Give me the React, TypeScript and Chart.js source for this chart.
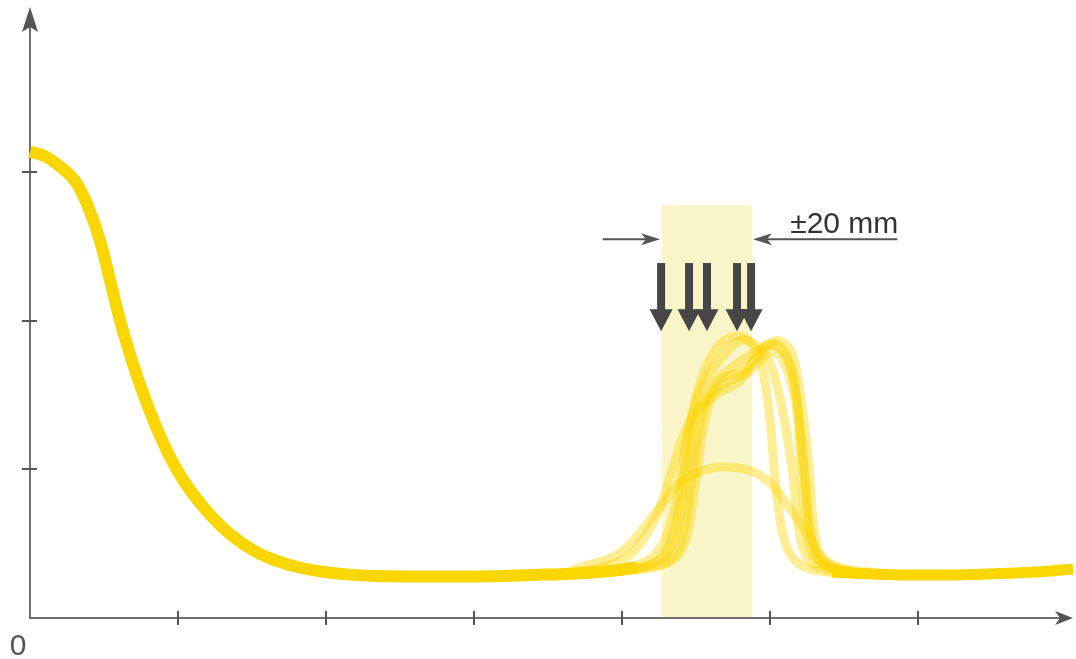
import React, { useEffect, useRef } from "react";
import { Chart, registerables } from "chart.js";

Chart.register(...registerables);

// Axis ticks (unit spacing, no labels except origin "0")
const xTicks = [1, 2, 3, 4, 5, 6];
const yTicks = [1, 2, 3];
const xMax = 7.047;
const yMax = 4.114;

// Main profile (left part and right part)
const mainLeftX = [0, 0.1, 0.19, 0.32, 0.4, 0.47, 0.62, 0.78, 0.98, 1.23, 1.5, 1.82, 2.5, 3.0, 3.4, 3.7, 3.95, 4.1];
const mainLeftY = [3.14, 3.11, 3.05, 2.92, 2.75, 2.55, 1.96, 1.47, 1.02, 0.68, 0.46, 0.34, 0.28, 0.28, 0.29, 0.3, 0.32, 0.34];
const mainRightX = [5.42, 5.6, 5.88, 6.2, 6.55, 6.8, 7.047];
const mainRightY = [0.31, 0.3, 0.29, 0.29, 0.3, 0.31, 0.33];

// Repeated peak profiles
const peak1X = [3.85, 4.19, 4.32, 4.41, 4.48, 4.56, 4.66, 4.78, 4.88, 4.95, 5.0, 5.05, 5.12, 5.24, 5.47];
const peak1Y = [0.31, 0.36, 0.49, 0.93, 1.4, 1.67, 1.84, 1.9, 1.84, 1.67, 1.33, 0.79, 0.46, 0.34, 0.3];
const peak2X = [3.85, 4.26, 4.39, 4.47, 4.53, 4.61, 4.76, 4.9, 5.01, 5.1, 5.17, 5.22, 5.27, 5.34, 5.54];
const peak2Y = [0.31, 0.36, 0.49, 0.93, 1.33, 1.57, 1.7, 1.79, 1.85, 1.79, 1.54, 1.06, 0.59, 0.38, 0.3];
const peak3X = [3.85, 4.16, 4.29, 4.38, 4.45, 4.53, 4.66, 4.8, 4.9, 4.99, 5.07, 5.15, 5.2, 5.28, 5.47];
const peak3Y = [0.31, 0.38, 0.53, 0.86, 1.27, 1.54, 1.74, 1.87, 1.84, 1.74, 1.47, 1.0, 0.56, 0.37, 0.3];
const peak4X = [3.85, 4.22, 4.36, 4.45, 4.51, 4.63, 4.8, 4.93, 5.03, 5.14, 5.19, 5.24, 5.28, 5.37, 5.61];
const peak4Y = [0.31, 0.37, 0.53, 1.0, 1.37, 1.5, 1.6, 1.8, 1.84, 1.7, 1.4, 0.93, 0.53, 0.36, 0.3];
const peak5X = [3.58, 3.85, 4.05, 4.22, 4.34, 4.43, 4.56, 4.73, 4.86, 5.0, 5.08, 5.17, 5.2, 5.24, 5.3, 5.47];
const peak5Y = [0.29, 0.34, 0.42, 0.66, 1.0, 1.27, 1.47, 1.6, 1.66, 1.79, 1.75, 1.47, 1.13, 0.66, 0.4, 0.31];
const peak6X = [3.85, 4.26, 4.41, 4.49, 4.56, 4.66, 4.83, 4.97, 5.05, 5.14, 5.2, 5.26, 5.3, 5.37, 5.61];
const peak6Y = [0.31, 0.35, 0.47, 0.86, 1.33, 1.6, 1.67, 1.82, 1.87, 1.8, 1.54, 1.06, 0.59, 0.38, 0.3];
const broadX = [3.58, 3.72, 3.99, 4.26, 4.39, 4.61, 4.84, 5.0, 5.11, 5.25, 5.34, 5.47, 5.74];
const broadY = [0.29, 0.34, 0.44, 0.75, 0.91, 1.01, 1.0, 0.91, 0.77, 0.57, 0.42, 0.34, 0.3];

// Tolerance band and markers
const bandRange = [4.27, 4.88];
const bandTop = 2.78;
const dropArrowX = [4.264, 4.453, 4.574, 4.777, 4.872];
const dropArrowTop = 2.39;
const dropArrowTip = 1.93;
const toleranceY = 2.55;
const toleranceLeftArrow = [3.87, 4.257];
const toleranceRightArrow = [5.86, 4.885];
const toleranceLabel = "±20 mm";
const originLabel = "0";

const MAIN = "rgb(249,214,0)";
const PEAK = "rgba(250,212,0,0.42)";

const pts = (xs: number[], ys: number[]) => xs.map((x, i) => ({ x, y: ys[i] }));

const overlay = {
  id: "overlay",
  beforeDatasetsDraw(chart: any) {
    const { ctx, scales, chartArea } = chart;
    const xs = scales.x, ys = scales.y;
    ctx.save();
    // band
    ctx.fillStyle = "rgb(250,245,200)";
    const bx0 = xs.getPixelForValue(bandRange[0]);
    const bx1 = xs.getPixelForValue(bandRange[1]);
    const by0 = ys.getPixelForValue(bandTop);
    const by1 = ys.getPixelForValue(0);
    ctx.fillRect(bx0, by0, bx1 - bx0, by1 - by0);
    // axes
    const ox = xs.getPixelForValue(0);
    const oy = ys.getPixelForValue(0);
    ctx.strokeStyle = "#6e6e6e";
    ctx.lineWidth = 2;
    ctx.beginPath();
    ctx.moveTo(ox, oy + 1);
    ctx.lineTo(ox, chartArea.top + 20);
    ctx.moveTo(ox - 1, oy);
    ctx.lineTo(chartArea.right - 12, oy);
    ctx.stroke();
    // ticks
    ctx.strokeStyle = "#555";
    ctx.beginPath();
    xTicks.forEach((t) => {
      const p = Math.round(xs.getPixelForValue(t));
      ctx.moveTo(p, oy - 7);
      ctx.lineTo(p, oy + 7);
    });
    yTicks.forEach((t) => {
      const p = Math.round(ys.getPixelForValue(t));
      ctx.moveTo(ox - 8, p);
      ctx.lineTo(ox + 7, p);
    });
    ctx.stroke();
    // arrowheads
    ctx.fillStyle = "#555";
    ctx.beginPath();
    ctx.moveTo(ox, chartArea.top);
    ctx.lineTo(ox - 8, chartArea.top + 25);
    ctx.lineTo(ox, chartArea.top + 20);
    ctx.lineTo(ox + 8, chartArea.top + 25);
    ctx.closePath();
    ctx.fill();
    ctx.beginPath();
    ctx.moveTo(chartArea.right, oy);
    ctx.lineTo(chartArea.right - 18, oy - 7);
    ctx.lineTo(chartArea.right - 13, oy);
    ctx.lineTo(chartArea.right - 18, oy + 7);
    ctx.closePath();
    ctx.fill();
    // origin label
    ctx.fillStyle = "#555";
    ctx.font = "30px 'Liberation Sans', Arial, sans-serif";
    ctx.textAlign = "center";
    ctx.textBaseline = "alphabetic";
    ctx.fillText(originLabel, ox - 12, oy + 37);
    ctx.restore();
  },
  afterDatasetsDraw(chart: any) {
    const { ctx, scales } = chart;
    const xs = scales.x, ys = scales.y;
    ctx.save();
    // drop arrows
    ctx.fillStyle = "#464646";
    const top = ys.getPixelForValue(dropArrowTop);
    const tip = ys.getPixelForValue(dropArrowTip);
    dropArrowX.forEach((v) => {
      const x = xs.getPixelForValue(v);
      ctx.fillRect(x - 4, top, 8, tip - top - 18);
      ctx.beginPath();
      ctx.moveTo(x - 11.5, tip - 22);
      ctx.lineTo(x + 11.5, tip - 22);
      ctx.lineTo(x, tip);
      ctx.closePath();
      ctx.fill();
    });
    // tolerance arrows
    const ty = ys.getPixelForValue(toleranceY);
    ctx.strokeStyle = "#555";
    ctx.fillStyle = "#555";
    ctx.lineWidth = 2;
    [toleranceLeftArrow, toleranceRightArrow].forEach(([a, b]) => {
      const x0 = xs.getPixelForValue(a);
      const x1 = xs.getPixelForValue(b);
      const dir = Math.sign(x1 - x0);
      ctx.beginPath();
      ctx.moveTo(x0, ty);
      ctx.lineTo(x1 - dir * 10, ty);
      ctx.stroke();
      ctx.beginPath();
      ctx.moveTo(x1, ty);
      ctx.lineTo(x1 - dir * 19, ty - 6);
      ctx.lineTo(x1 - dir * 14, ty);
      ctx.lineTo(x1 - dir * 19, ty + 6);
      ctx.closePath();
      ctx.fill();
    });
    // label
    ctx.fillStyle = "#333";
    ctx.font = "30px 'Liberation Sans', Arial, sans-serif";
    ctx.textAlign = "right";
    ctx.textBaseline = "alphabetic";
    ctx.fillText(toleranceLabel, xs.getPixelForValue(toleranceRightArrow[0]) + 1, ty - 6);
    ctx.restore();
  },
};

export default function App() {
  const ref = useRef<HTMLCanvasElement>(null);
  useEffect(() => {
    document.body.style.margin = "0";
    const peakSets = [
      [broadX, broadY],
      [peak5X, peak5Y],
      [peak1X, peak1Y],
      [peak2X, peak2Y],
      [peak3X, peak3Y],
      [peak4X, peak4Y],
      [peak6X, peak6Y],
    ];
    const datasets: any[] = [
      { data: pts(mainLeftX, mainLeftY), borderColor: MAIN, borderWidth: 12, cubicInterpolationMode: "monotone" },
      { data: pts(mainRightX, mainRightY), borderColor: MAIN, borderWidth: 11, cubicInterpolationMode: "monotone" },
      ...peakSets.map(([xs, ys]) => ({ data: pts(xs, ys), borderColor: PEAK, borderWidth: 9, tension: 0.35 })),
    ].map((d) => ({
      ...d,
      showLine: true,
      pointRadius: 0,
      borderCapStyle: "round",
      borderJoinStyle: "round",
      clip: false,
      fill: false,
    }));
    datasets[0].borderCapStyle = "butt";
    datasets[1].borderCapStyle = "butt";
    const chart = new Chart(ref.current!, {
      type: "scatter",
      data: { datasets },
      options: {
        animation: false,
        responsive: false,
        devicePixelRatio: 1,
        layout: { padding: { left: 30, top: 7, right: 3, bottom: 41 } },
        plugins: { legend: { display: false }, tooltip: { enabled: false } },
        scales: {
          x: { type: "linear", min: 0, max: xMax, display: false },
          y: { type: "linear", min: 0, max: yMax, display: false },
        },
      },
      plugins: [overlay],
    });
    return () => chart.destroy();
  }, []);
  return (
    <div style={{ width: 1076, height: 659, background: "#fff" }}>
      <canvas ref={ref} width={1076} height={659} />
    </div>
  );
}
